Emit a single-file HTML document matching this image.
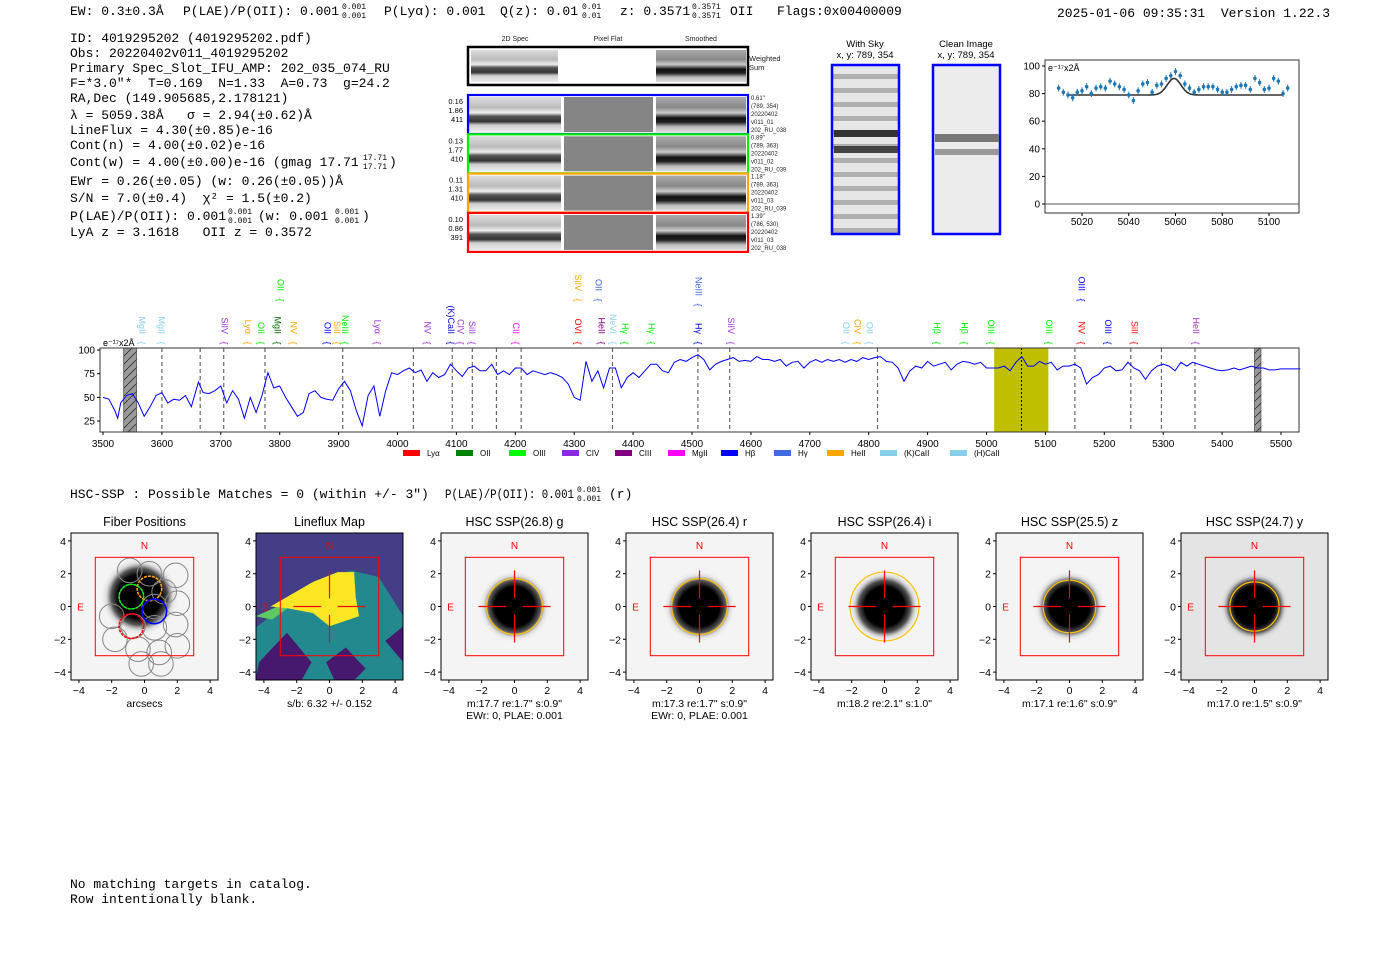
<!DOCTYPE html>
<html><head><meta charset="utf-8">
<style>
html,body{margin:0;padding:0;background:#fff;}
svg{display:block;font-family:"Liberation Sans","DejaVu Sans",sans-serif;}
.mono{font-family:"Liberation Mono","DejaVu Sans Mono",monospace;font-size:13px;fill:#000;white-space:pre;}
.tk{font-size:10px;fill:#000;}
.sm{font-size:6px;fill:#222;}
</style></head>
<body>
<svg id="root" width="1400" height="953" viewBox="0 0 1400 953" xmlns="http://www.w3.org/2000/svg" xml:space="preserve">
<defs>
  <radialGradient id="blob">
    <stop offset="0" stop-color="#000"/><stop offset="0.55" stop-color="#000"/><stop offset="0.72" stop-color="#555"/><stop offset="0.85" stop-color="#ccc" stop-opacity="0.6"/><stop offset="1" stop-color="#f2f2f2" stop-opacity="0"/>
  </radialGradient>
  <linearGradient id="stripes" x1="0" y1="0" x2="0" y2="1">
    <stop offset="0" stop-color="#ddd"/><stop offset="0.3" stop-color="#bbb"/><stop offset="0.45" stop-color="#eee"/><stop offset="0.55" stop-color="#555"/><stop offset="0.7" stop-color="#333"/><stop offset="0.8" stop-color="#ccc"/><stop offset="1" stop-color="#eee"/>
  </linearGradient>
  <linearGradient id="smooth" x1="0" y1="0" x2="0" y2="1">
    <stop offset="0" stop-color="#aaa"/><stop offset="0.3" stop-color="#888"/><stop offset="0.45" stop-color="#ccc"/><stop offset="0.6" stop-color="#111"/><stop offset="0.72" stop-color="#222"/><stop offset="0.85" stop-color="#bbb"/><stop offset="1" stop-color="#ddd"/>
  </linearGradient>
  <pattern id="hatch" width="8" height="8" patternUnits="userSpaceOnUse">
    <rect width="8" height="8" fill="#999"/><path d="M0 8 L8 0" stroke="#333" stroke-width="0.8"/>
  </pattern>
  <pattern id="skystripe" width="10" height="14" patternUnits="userSpaceOnUse">
    <rect width="10" height="14" fill="#e6e6e6"/><rect y="4" width="10" height="5" fill="#b0b0b0"/>
  </pattern>
</defs>

<g>
<text class="mono" x="70" y="15">EW: 0.3±0.3Å</text>
<text class="mono" x="183" y="15">P(LAE)/P(OII): 0.001</text>
<text class="mono" style="font-size:8px" x="342" y="9">0.001</text>
<text class="mono" style="font-size:8px" x="342" y="18">0.001</text>
<text class="mono" x="384" y="15">P(Lyα): 0.001</text>
<text class="mono" x="500" y="15">Q(z): 0.01</text>
<text class="mono" style="font-size:8px" x="582" y="9">0.01</text>
<text class="mono" style="font-size:8px" x="582" y="18">0.01</text>
<text class="mono" x="620" y="15">z: 0.3571</text>
<text class="mono" style="font-size:8px" x="692" y="9">0.3571</text>
<text class="mono" style="font-size:8px" x="692" y="18">0.3571</text>
<text class="mono" x="730" y="15">OII</text>
<text class="mono" x="777" y="15">Flags:0x00400009</text>
<text class="mono" x="1057" y="17">2025-01-06 09:35:31  Version 1.22.3</text>
</g>

<g>
<text class="mono" x="70" y="42">ID: 4019295202 (4019295202.pdf)</text>
<text class="mono" x="70" y="57">Obs: 20220402v011_4019295202</text>
<text class="mono" x="70" y="72">Primary Spec_Slot_IFU_AMP: 202_035_074_RU</text>
<text class="mono" x="70" y="87">F=*3.0"*  T=0.169  N=1.33  A=0.73  g=24.2</text>
<text class="mono" x="70" y="102">RA,Dec (149.905685,2.178121)</text>
<text class="mono" x="70" y="119">λ = 5059.38Å   σ = 2.94(±0.62)Å</text>
<text class="mono" x="70" y="134">LineFlux = 4.30(±0.85)e-16</text>
<text class="mono" x="70" y="149">Cont(n) = 4.00(±0.02)e-16</text>
<text class="mono" x="70" y="166">Cont(w) = 4.00(±0.00)e-16 (gmag 17.71</text>
<text class="mono" style="font-size:8px" x="363" y="160">17.71</text>
<text class="mono" style="font-size:8px" x="363" y="169">17.71</text>
<text class="mono" x="389" y="166">)</text>
<text class="mono" x="70" y="185">EWr = 0.26(±0.05) (w: 0.26(±0.05))Å</text>
<text class="mono" x="70" y="202">S/N = 7.0(±0.4)  χ² = 1.5(±0.2)</text>
<text class="mono" x="70" y="220">P(LAE)/P(OII): 0.001</text>
<text class="mono" style="font-size:8px" x="228" y="214">0.001</text>
<text class="mono" style="font-size:8px" x="228" y="223">0.001</text>
<text class="mono" x="258" y="220">(w: 0.001</text>
<text class="mono" style="font-size:8px" x="335" y="214">0.001</text>
<text class="mono" style="font-size:8px" x="335" y="223">0.001</text>
<text class="mono" x="362" y="220">)</text>
<text class="mono" x="70" y="236">LyA z = 3.1618   OII z = 0.3572</text>
</g>

<g id="spec2d">
<text class="sm" style="font-size:7px" x="515" y="41" text-anchor="middle">2D Spec</text>
<text class="sm" style="font-size:7px" x="608" y="41" text-anchor="middle">Pixel Flat</text>
<text class="sm" style="font-size:7px" x="701" y="41" text-anchor="middle">Smoothed</text>
<rect x="468" y="47" width="280" height="38" fill="#fff" stroke="#000" stroke-width="2.5"/>
<rect x="471" y="50" width="87" height="32" fill="url(#stripes)"/>
<rect x="656" y="50" width="90" height="32" fill="url(#smooth)"/>
<text class="sm" style="font-size:7.5px" x="749" y="61">Weighted</text>
<text class="sm" style="font-size:7.5px" x="749" y="70">Sum</text>
</g>

<g>
<text x="865" y="47" font-size="9.5" text-anchor="middle">With Sky</text>
<text x="865" y="58" font-size="9.5" text-anchor="middle">x, y: 789, 354</text>
<rect x="832" y="65" width="67" height="169" fill="url(#skystripe)" stroke="#00f" stroke-width="2.5"/>
<rect x="834" y="130" width="64" height="7" fill="#333"/>
<rect x="834" y="146" width="64" height="7" fill="#444"/>
<text x="966" y="47" font-size="9.5" text-anchor="middle">Clean Image</text>
<text x="966" y="58" font-size="9.5" text-anchor="middle">x, y: 789, 354</text>
<rect x="933" y="65" width="67" height="169" fill="#ececec" stroke="#00f" stroke-width="2.5"/>
<rect x="935" y="134" width="64" height="8" fill="#777"/>
<rect x="935" y="149" width="64" height="6" fill="#999"/>
</g>

<g id="fitchart">
<rect x="1045" y="60" width="254" height="153" fill="#fff" stroke="#333" stroke-width="1"/>
<text x="1048" y="71" font-size="9">e⁻¹⁷x2Å</text>
</g>

<g id="spec">
<rect x="100" y="348" width="1199" height="84" fill="#fff"/>
</g>

<text class="mono" x="70" y="498">HSC-SSP : Possible Matches = 0 (within +/- 3")</text>
<text class="mono" x="445" y="498" textLength="129" lengthAdjust="spacingAndGlyphs">P(LAE)/P(OII): 0.001</text>
<text class="mono" style="font-size:8px" x="577" y="492">0.001</text>
<text class="mono" style="font-size:8px" x="577" y="501">0.001</text>
<text class="mono" x="609" y="498">(r)</text>

<g id="cutouts"></g>

<text class="mono" x="70" y="888">No matching targets in catalog.</text>
<text class="mono" x="70" y="903">Row intentionally blank.</text>
</svg>

<script>
const NS="http://www.w3.org/2000/svg";
function mk(parent,tag,attrs,txt){const e=document.createElementNS(NS,tag);for(const k in attrs)e.setAttribute(k,attrs[k]);if(txt!==undefined)e.textContent=txt;parent.appendChild(e);return e;}

const specWave=[3500,3510,3520,3525,3530,3540,3550,3560,3570,3580,3590,3600,3610,3620,3630,3640,3650,3662,3670,3680,3690,3700,3710,3720,3730,3740,3750,3760,3770,3780,3790,3800,3810,3820,3830,3840,3850,3860,3870,3880,3890,3900,3910,3920,3930,3940,3950,3960,3970,3980,3990,4000,4010,4020,4030,4040,4050,4060,4070,4080,4090,4100,4110,4120,4130,4140,4150,4160,4170,4180,4190,4200,4210,4220,4230,4240,4250,4260,4270,4280,4290,4300,4310,4320,4330,4340,4350,4360,4370,4380,4390,4400,4410,4420,4430,4440,4450,4460,4470,4480,4490,4500,4510,4520,4530,4540,4550,4560,4570,4580,4590,4600,4610,4620,4630,4640,4650,4660,4670,4680,4690,4700,4710,4720,4730,4740,4750,4760,4770,4780,4790,4800,4810,4820,4830,4840,4850,4860,4870,4880,4890,4900,4910,4920,4930,4940,4950,4960,4970,4980,4990,5000,5010,5020,5030,5040,5050,5060,5070,5080,5090,5100,5110,5120,5130,5140,5150,5160,5170,5180,5190,5200,5210,5220,5230,5240,5250,5260,5270,5280,5290,5300,5310,5320,5330,5340,5350,5360,5370,5380,5390,5400,5410,5420,5430,5440,5450,5460,5470,5480,5490,5500,5520,5533];
const specFlux=[50,48,36,28,44,52,54,44,30,40,52,55,44,48,47,52,40,66,55,54,57,62,44,57,48,28,50,34,52,76,60,62,50,40,30,34,54,57,50,48,47,59,67,57,36,20,52,62,30,57,76,74,78,81,76,79,67,76,71,74,85,78,72,81,83,78,78,85,74,78,74,81,81,74,78,76,74,76,74,71,64,50,47,88,67,78,60,81,81,60,71,76,71,78,85,85,78,76,87,90,88,92,95,90,79,85,88,90,92,88,89,88,93,90,90,88,90,83,87,88,81,87,90,87,90,88,90,87,90,88,92,90,92,93,88,87,81,67,78,83,81,88,83,85,87,79,85,88,87,85,87,81,81,81,83,78,87,93,83,83,88,85,87,79,83,83,85,81,64,71,74,81,83,78,79,87,81,78,69,78,83,85,83,78,87,83,87,85,83,81,79,78,79,81,79,81,83,81,81,79,79,80,80,80];
const specTicks=[3500,3600,3700,3800,3900,4000,4100,4200,4300,4400,4500,4600,4700,4800,4900,5000,5100,5200,5300,5400,5500];
const specYTicks=[25,50,75,100];
const dashedLines=[3600,3665,3705,3775,3907,4027,4093,4127,4168,4210,4365,4510,4564,4815,5150,5245,5297,5354];
const lineLabels=[
 [3565,"MgII","#87ceeb",0],[3598,"MgII","#87ceeb",0],[3705,"SiIV","#9932cc",0],[3745,"Lyα","#ffa500",0],[3767,"OII","#00ee00",0],[3795,"MgII","#006400",0],[3822,"NV","#ffa500",0],[3800,"OII","#00ee00",1],
 [3880,"OII","#0000ff",0],[3896,"SiII","#ffa500",0],[3910,"NeIII","#00ee00",0],[3965,"Lyα","#9932cc",0],[4050,"NV","#9932cc",0],[4090,"(K)CaII","#0000cd",0],[4106,"CIV","#9932cc",0],[4125,"SiII","#9932cc",0],
 [4200,"CII","#ff00ff",0],[4305,"OVI","#ff0000",0],[4345,"HeII","#800080",0],[4365,"NeVI","#87ceeb",0],[4385,"Hγ","#00ee00",0],[4430,"Hγ","#00ee00",0],[4510,"Hγ","#0000cd",0],[4565,"SiIV","#9932cc",0],
 [4305,"SiIV","#ffa500",1],[4340,"OII","#4169e1",1],[4510,"NeIII","#4169e1",2],
 [4760,"OII","#87ceeb",0],[4780,"CIV","#ffa500",0],[4800,"OII","#87ceeb",0],[4915,"Hβ","#00ee00",0],[4962,"Hβ","#00ee00",0],[5007,"OIII","#00ee00",0],[5105,"OIII","#00ee00",0],
 [5160,"NV","#ff0000",0],[5205,"OIII","#0000ff",0],[5250,"SiII","#ff0000",0],[5355,"HeII","#9932cc",0],[5160,"OIII","#0000ff",1]];
const legendNames=["Lyα","OII","OIII","CIV","CIII","MgII","Hβ","Hγ","HeII","(K)CaII","(H)CaII"];
const legendColors=["#ff0000","#008000","#00ff00","#8a2be2","#800080","#ff00ff","#0000ff","#4169e1","#ffa500","#87ceeb","#87ceeb"];

const fitWave=[5010,5012,5014,5016,5018,5020,5022,5024,5026,5028,5030,5032,5034,5036,5038,5040,5042,5044,5046,5048,5050,5052,5054,5056,5058,5060,5062,5064,5066,5068,5070,5072,5074,5076,5078,5080,5082,5084,5086,5088,5090,5092,5094,5096,5098,5100,5102,5104,5106,5108];
const fitFlux=[84,81,79,77,81,82,85,80,84,85,84,89,87,85,83,79,75,82,87,88,81,86,87,91,93,96,93,87,84,81,83,85,85,85,83,81,81,83,85,86,86,83,91,88,83,84,91,89,80,84];
const fitErr=[2.5,2.5,2.5,2.5,2.5,2.5,2.5,2.5,2.5,2.5,2.5,2.5,2.5,2.5,2.5,2.5,2.5,2.5,2.5,2.5,2.5,2.5,2.5,2.5,2.5,2.5,2.5,2.5,2.5,2.5,2.5,2.5,2.5,2.5,2.5,2.5,2.5,2.5,2.5,2.5,2.5,2.5,2.5,2.5,2.5,2.5,2.5,2.5,2.5,2.5];
const fitModel={center:5059.38,sigma:2.94,amp:12,cont:79,start:5014,end:5106};
const fitXTicks=[5020,5040,5060,5080,5100];
const fitYTicks=[0,20,40,60,80,100];

const cutTitles=["Fiber Positions","Lineflux Map","HSC SSP(26.8) g","HSC SSP(26.4) r","HSC SSP(26.4) i","HSC SSP(25.5) z","HSC SSP(24.7) y"];
const cutLine1=["arcsecs","s/b: 6.32 +/- 0.152",'m:17.7  re:1.7"  s:0.9"','m:17.3  re:1.7"  s:0.9"','m:18.2  re:2.1"  s:1.0"','m:17.1  re:1.6"  s:0.9"','m:17.0  re:1.5"  s:0.9"'];
const cutLine2=["","","EWr: 0, PLAE: 0.001","EWr: 0, PLAE: 0.001","","",""];
const apRadius=[0,0,1.7,1.7,2.1,1.6,1.5];
const cutTicks=[-4,-2,0,2,4];

const sx=l=>103+(l-3500)*0.589;
const sy=v=>350+(100-v)*0.947;
const spec=document.getElementById('spec');
let hp=mk(spec,'rect',{x:sx(3535),y:348,width:sx(3557)-sx(3535),height:84,fill:'url(#hatch)',stroke:'#333','stroke-width':0.6});


hp=mk(spec,'rect',{x:sx(5455),y:348,width:sx(5466)-sx(5455),height:84,fill:'url(#hatch)',stroke:'#333','stroke-width':0.6});


let band=mk(spec,'rect',{x:sx(5013),y:348,width:sx(5105)-sx(5013),height:84,fill:'#bfbf00'});


dashedLines.forEach(l=>{const e=mk(spec,'line',{x1:sx(l),x2:sx(l),y1:348,y2:432,stroke:'#666','stroke-width':1.2,'stroke-dasharray':'4,3'});
 
 });
let zl=mk(spec,'line',{x1:sx(5059.4),x2:sx(5059.4),y1:348,y2:432,stroke:'#000','stroke-width':1,'stroke-dasharray':'2,2'});


let d='';specWave.forEach((l,i)=>{d+=(i?'L':'M')+sx(l).toFixed(1)+' '+sy(specFlux[i]).toFixed(1);});
let sp=mk(spec,'path',{d:d,fill:'none',stroke:'#0000ff','stroke-width':1});


let fr=mk(spec,'rect',{x:100,y:348,width:1199,height:84,fill:'none',stroke:'#333','stroke-width':1});


specTicks.forEach(t=>{mk(spec,'line',{x1:sx(t),x2:sx(t),y1:432,y2:435,stroke:'#000'});
 const e=mk(spec,'text',{x:sx(t),y:447,'text-anchor':'middle',class:'tk'},t);
 
 });
specYTicks.forEach(t=>{mk(spec,'line',{x1:97,x2:100,y1:sy(t),y2:sy(t),stroke:'#000'});
 const e=mk(spec,'text',{x:95,y:sy(t)+3.5,'text-anchor':'end',class:'tk'},t);
 
 });
let ul=mk(spec,'text',{x:103,y:346,'font-size':9},'e⁻¹⁷x2Å');


const rowY=[343,300,305];
lineLabels.forEach(([l,t,c,r])=>{const x=sx(l);const yb=rowY[r];
 const br=mk(spec,'text',{x:x,y:yb,fill:c,'font-size':9,transform:`rotate(90 ${x} ${yb})`,'text-anchor':'middle','dominant-baseline':'middle'},'{');
 
 
 const e=mk(spec,'text',{x:x,y:yb-9,fill:c,'font-size':9,transform:`rotate(90 ${x} ${yb-9})`,'text-anchor':'end','dominant-baseline':'middle'},t);
 
 });
legendNames.forEach((n,i)=>{const x=403+i*53+(i===10?17:0);
 const r=mk(spec,'rect',{x:x,y:450,width:17,height:6,fill:legendColors[i]});
 
 
 const e=mk(spec,'text',{x:x+24,y:456,'font-size':8},n);
 
 });

const fc=document.getElementById('fitchart');
const px=l=>1082+(l-5020)*2.3375;
const py=v=>204-v*1.38;
let zero=mk(fc,'line',{x1:1045,x2:1299,y1:py(0),y2:py(0),stroke:'#555','stroke-width':1});


let md='';for(let l=fitModel.start;l<=fitModel.end;l+=0.5){const v=fitModel.cont+fitModel.amp*Math.exp(-0.5*Math.pow((l-fitModel.center)/fitModel.sigma,2));md+=(l===fitModel.start?'M':'L')+px(l).toFixed(1)+' '+py(v).toFixed(1);}
let mp=mk(fc,'path',{d:md,fill:'none',stroke:'#333','stroke-width':1.6});


fitWave.forEach((l,i)=>{const x=px(l),y=py(fitFlux[i]);
 const eb=mk(fc,'line',{x1:x,x2:x,y1:py(fitFlux[i]+fitErr[i]),y2:py(fitFlux[i]-fitErr[i]),stroke:'#1f77b4','stroke-width':1});
 
 
 const c=mk(fc,'circle',{cx:x,cy:y,r:1.8,fill:'#1f77b4'});
 
 });
fitXTicks.forEach(t=>{mk(fc,'line',{x1:px(t),x2:px(t),y1:213,y2:216,stroke:'#000'});
 const e=mk(fc,'text',{x:px(t),y:225,'text-anchor':'middle',class:'tk','font-size':9.5},t);
 
 });
fitYTicks.forEach(t=>{mk(fc,'line',{x1:1042,x2:1045,y1:py(t),y2:py(t),stroke:'#000'});
 const e=mk(fc,'text',{x:1040,y:py(t)+3.5,'text-anchor':'end',class:'tk','font-size':9.5},t);
 
 });

const s2=document.getElementById('spec2d');
const rowCols=['#0000ff','#00ee00','#ffa500','#ff0000'];
const rowLeft=[["0.16","1.86","411"],["0.13","1.77","410"],["0.11","1.31","410"],["0.10","0.86","391"]];
const rowRight=[['0.61"','(789, 354)','20220402','v011_01','202_RU_038'],['0.89"','(789, 363)','20220402','v011_02','202_RU_039'],['1.18"','(789, 363)','20220402','v011_03','202_RU_039'],['1.39"','(786, 530)','20220402','v011_03','202_RU_038']];
rowCols.forEach((c,i)=>{const y=95+i*39.3;
 let a=mk(s2,'rect',{x:469,y:y+2,width:92,height:35,fill:'url(#stripes)'});
 
 
 a=mk(s2,'rect',{x:564,y:y+2,width:89,height:35,fill:'#858585'});
 
 
 a=mk(s2,'rect',{x:656,y:y+2,width:90,height:35,fill:'url(#smooth)'});
 
 
 a=mk(s2,'rect',{x:468,y:y,width:280,height:39,fill:'none',stroke:c,'stroke-width':2.2});
 
 
 rowLeft[i].forEach((t,j)=>{const e=mk(s2,'text',{x:463,y:y+9+j*9,'text-anchor':'end','font-size':7.5},t);
  
  });
 rowRight[i].forEach((t,j)=>{const e=mk(s2,'text',{x:751,y:y+5+j*8,class:'sm'},t);
  
  });
});

const cg=document.getElementById('cutouts');
const lefts=[71,256,441,626,811,996,1181];
const fibers=[[-0.9,2.2],[0.3,2.0],[1.9,1.9],[2.0,0.2],[1.2,0.9],[-0.8,0.6],[0.6,0],[-2.0,-0.6],[-0.7,-1.2],[0.6,-1.3],[1.9,-1.1],[-1.8,-2.0],[-0.4,-2.6],[0.9,-2.8],[2.0,-2.4],[-0.2,-3.5],[1.0,-3.5]];
lefts.forEach((L,i)=>{const T=533,W=147,u=16.4,cx=L+W/2,cy=T+W/2;
 const X=v=>cx+v*u, Y=v=>cy-v*u;
 const pts=a=>a.map(p=>X(p[0]).toFixed(1)+','+Y(p[1]).toFixed(1)).join(' ');
 const g=mk(cg,'g',{});
 
 
 const bg=mk(g,'rect',{x:L,y:T,width:W,height:W,fill:i===1?'#433e85':(i===6?'#e4e4e4':'#f4f4f4')});
 
 
 if(i===1){
  let p=mk(g,'polygon',{points:pts([[-4.5,-1.3],[-1,1.4],[1.3,2.2],[3,1.8],[4.5,-0.6],[4.5,-4.5],[-4.5,-4.5]]),fill:'#23898e'});
  
  
  p=mk(g,'polygon',{points:pts([[-4.5,-0.6],[-2.5,0.3],[-0.5,1.4],[-3.5,-0.8]]),fill:'#5ec962'});
  
  
  [[[-4.3,-3.4],[-2.6,-1.6],[-1.1,-3.4],[-1.7,-4.5],[-4.5,-4.5]],[[-0.2,-3.4],[1,-2.5],[2.2,-3.8],[1.5,-4.5],[0.3,-4.5]],[[3.4,-2.1],[4.5,-1.2],[4.5,-3.4]]].forEach(a=>{
   const q=mk(g,'polygon',{points:pts(a),fill:'#46196e'});
   
   });
  p=mk(g,'polygon',{points:pts([[-3.6,0],[-1,1.5],[0.5,2.1],[1.5,2.1],[1.6,0.6],[1.8,-0.6],[0,-1.2],[-1,-0.4],[-2.6,-0.1]]),fill:'#fde725'});
  
  
 } else {
  const b=mk(g,'circle',{cx:i===0?X(-0.3):cx,cy:i===0?Y(0.6):cy,r:u*(i===0?2.4:2.2),fill:'url(#blob)'});
  
  
 }
 if(i===0){
  fibers.forEach(f=>{const c=mk(g,'circle',{cx:X(f[0]),cy:Y(f[1]),r:u*0.75,fill:'none',stroke:'#888','stroke-width':1});
   
   });
  [[0.3,1.1,'#ffa500'],[-0.8,0.6,'#00ee00'],[0.6,-0.3,'#0000ff'],[-0.8,-1.2,'#ff0000']].forEach(f=>{const c=mk(g,'circle',{cx:X(f[0]),cy:Y(f[1]),r:u*0.75,fill:'none',stroke:f[2],'stroke-width':1.6,'stroke-dasharray':f[2]==='#0000ff'?'':'3,1'});
   
   });
 }
 if(apRadius[i]>0){const c=mk(g,'circle',{cx:cx,cy:cy,r:u*apRadius[i],fill:'none',stroke:'#ffc000','stroke-width':1.2});
  
  }
 const sq=mk(g,'rect',{x:X(-3),y:Y(3),width:6*u,height:6*u,fill:'none',stroke:'#ff0000','stroke-width':1});
 
 
 if(i>0){[[X(-2.2),cy,X(-0.5),cy],[X(0.5),cy,X(2.2),cy],[cx,Y(2.2),cx,Y(0.5)],[cx,Y(-0.5),cx,Y(-2.2)]].forEach(s=>{
  const l=mk(g,'line',{x1:s[0],y1:s[1],x2:s[2],y2:s[3],stroke:'#ff0000','stroke-width':1.2});
  
  });}
 const n=mk(g,'text',{x:cx,y:Y(3.75)+4,'text-anchor':'middle',fill:'#ff0000','font-size':10},'N');
 
 
 const e=mk(g,'text',{x:X(-3.9),y:cy+4,'text-anchor':'middle',fill:'#ff0000','font-size':10},'E');
 
 
 const fr=mk(g,'rect',{x:L,y:T,width:W,height:W,fill:'none',stroke:'#000','stroke-width':1});
 
 
 const t=mk(g,'text',{x:cx,y:526,'text-anchor':'middle','font-size':12.5},cutTitles[i]);
 
 
 cutTicks.forEach(v=>{mk(g,'line',{x1:X(v),x2:X(v),y1:T+W,y2:T+W+3,stroke:'#000'});
  const a=mk(g,'text',{x:X(v),y:T+W+14,'text-anchor':'middle','font-size':10.5},v<0?'−'+(-v):v);
  
  
  mk(g,'line',{x1:L-3,x2:L,y1:Y(v),y2:Y(v),stroke:'#000'});
  const b=mk(g,'text',{x:L-5,y:Y(v)+4,'text-anchor':'end','font-size':10.5},v<0?'−'+(-v):v);
  
  });
 const c1=mk(g,'text',{x:cx,y:707,'text-anchor':'middle','font-size':10.5},cutLine1[i]);
 
 
 if(cutLine2[i]){const c2=mk(g,'text',{x:cx,y:719,'text-anchor':'middle','font-size':10.5},cutLine2[i]);
  
  }
});
</script>
</body></html>
